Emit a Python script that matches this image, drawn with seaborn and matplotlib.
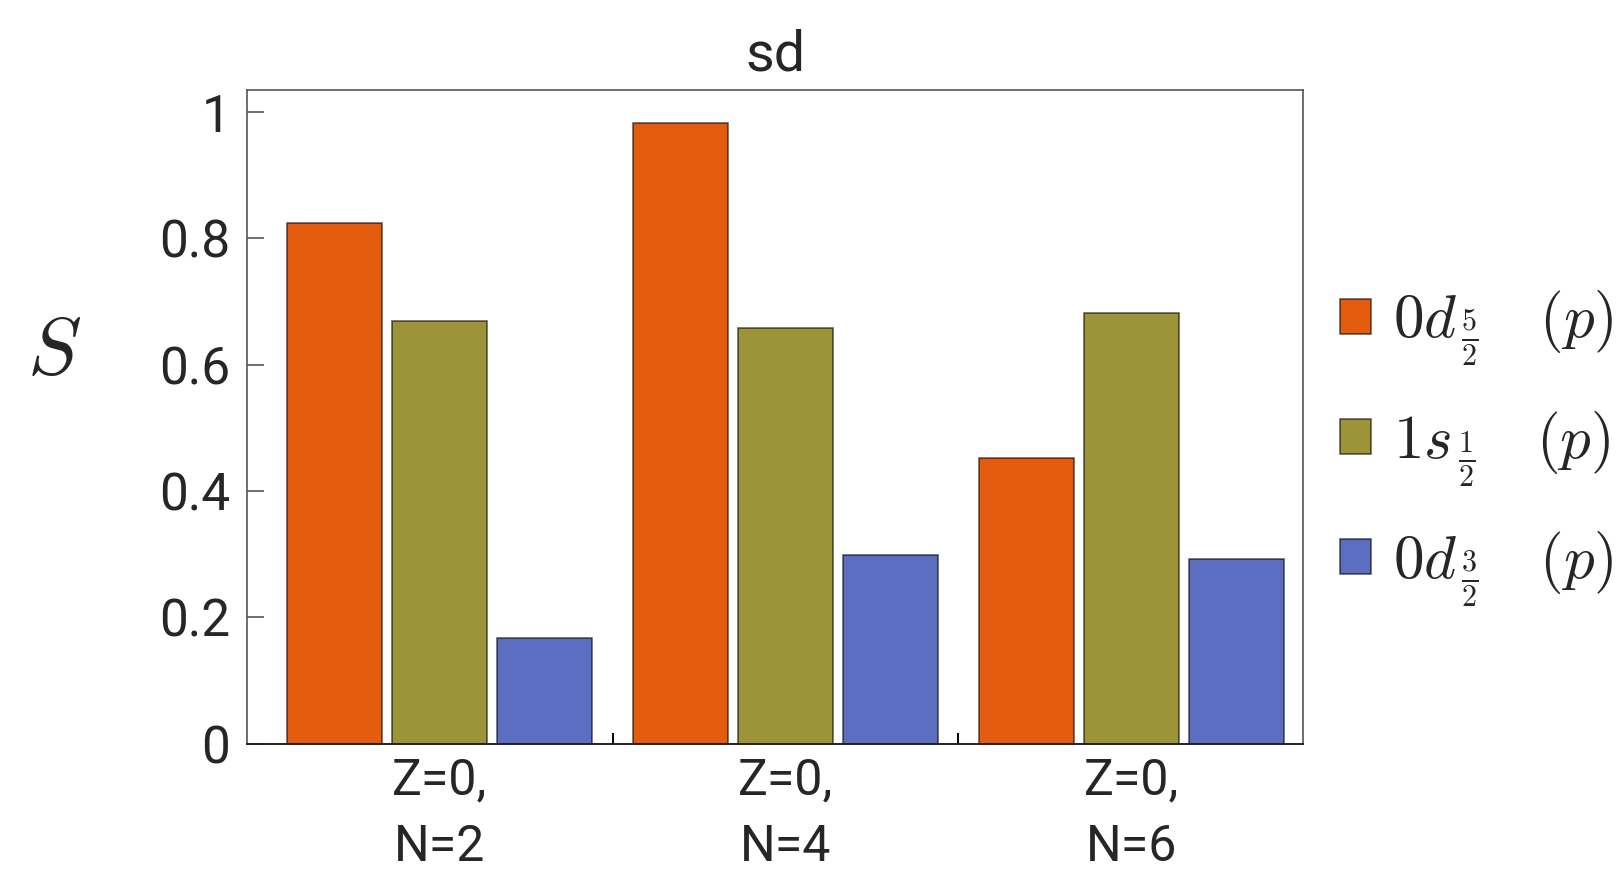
import numpy as np
import pandas as pd
import seaborn as sns
import matplotlib.pyplot as plt

# ===== data =====
groups = ["Z=0,\nN=2", "Z=0,\nN=4", "Z=0,\nN=6"]
orbitals = [r"$0d_{\,\frac{5}{2}}\quad(p)$",
            r"$1s_{\,\frac{1}{2}}\quad(p)$",
            r"$0d_{\,\frac{3}{2}}\quad(p)$"]
d52 = [0.824, 0.983, 0.452]
s12 = [0.669, 0.658, 0.682]
d32 = [0.167, 0.298, 0.293]
colors = ["#E35C0F", "#9D943A", "#5C6EC1"]
yticks = [0, 0.2, 0.4, 0.6, 0.8, 1]
ytick_labels = ["0", "0.2", "0.4", "0.6", "0.8", "1"]

df = pd.DataFrame({
    "group": groups * 3,
    "orbital": np.repeat(orbitals, 3),
    "S": d52 + s12 + d32,
})

# ===== style =====
sns.set_theme(style="white")
plt.rcParams['font.family'] = ['Roboto', 'DejaVu Sans']
plt.rcParams['mathtext.fontset'] = 'cm'

fig = plt.figure(figsize=(16.23, 8.82), dpi=100)
ax = fig.add_axes([0.1522, 0.157, 0.6506, 0.741])

sns.barplot(data=df, x="group", y="S", hue="orbital",
            order=groups, hue_order=orbitals, palette=colors,
            width=0.911, gap=0.095, saturation=1, errorbar=None,
            edgecolor=(0, 0, 0, 0.6), linewidth=1.2, ax=ax)

ax.set_xlim(-0.558, 2.497)
ax.set_ylim(0, 1.035)

# ===== y axis =====
ax.set_yticks(yticks, ytick_labels)
ax.tick_params(axis='y', direction='in', length=12, width=1.2,
               color='#555555', labelsize=37, pad=12, left=True)

# ===== x axis: group labels + small inward ticks =====
ax.tick_params(axis='x', which='major', length=0, labelsize=36, pad=9)
for lab in ax.get_xticklabels():
    lab.set_linespacing(1.5)
centers = [p.get_x() + p.get_width() / 2 for p in ax.patches
           if p.get_height() > 0]
ax.set_xticks(centers + [0.5, 1.5], minor=True)
ax.tick_params(axis='x', which='minor', direction='in', length=8,
               width=1.4, color='black', bottom=True)

for side in ['top', 'right', 'left']:
    ax.spines[side].set_color('#555555')
    ax.spines[side].set_linewidth(1.2)
ax.spines['bottom'].set_color('#222222')
ax.spines['bottom'].set_linewidth(1.4)

ax.set_xlabel("")
ax.set_ylabel(r"$S$", rotation=0, fontsize=58, ha='center', va='center')
ax.yaxis.set_label_coords(-0.183, 0.599)
ax.set_title("sd", fontsize=40, pad=14)

# ===== legend =====
sns.move_legend(ax, "center left", bbox_to_anchor=(0.8256, 0.491),
                bbox_transform=fig.transFigure, frameon=False, title="",
                fontsize=44, handlelength=0.5, handleheight=0.5,
                handletextpad=0.37, labelspacing=0.67,
                borderpad=0, borderaxespad=0)

fig.savefig("out.png", dpi=100)
